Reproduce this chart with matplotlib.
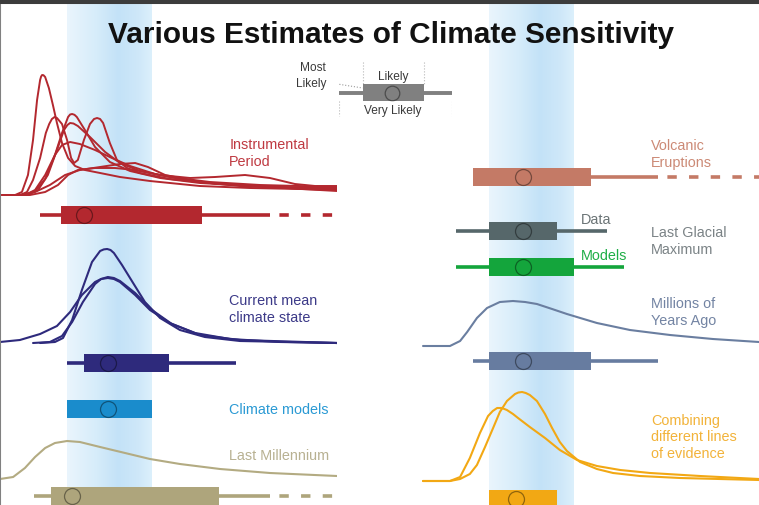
import matplotlib
matplotlib.use('Agg')
import matplotlib.pyplot as plt
import numpy as np
from matplotlib.colors import LinearSegmentedColormap
from matplotlib import font_manager

plt.rcParams['font.family'] = ['Liberation Sans', 'DejaVu Sans']

# ---------------- DATA (x in deg C, h = curve height above its baseline) ----------------
# Instrumental period PDFs
inst1_x = [0, 0.45, 0.65, 0.83, 0.98, 1.10, 1.19, 1.22, 1.25, 1.29, 1.34, 1.45, 1.57, 1.69, 1.84, 2.02, 2.23, 2.52, 2.97, 3.56, 4.45, 5.93, 7.42, 8.9, 10]
inst1_h = [0, 0, 3, 20, 55, 95, 115, 118.5, 120, 119.8, 118, 107, 90, 72, 52, 37, 29, 25, 22, 18, 14, 9, 7, 6, 5]
inst2_x = [0, 0.6, 0.8, 0.98, 1.19, 1.36, 1.46, 1.54, 1.62, 1.69, 1.84, 1.99, 2.11, 2.2, 2.31, 2.49, 2.67, 2.79, 2.88, 2.97, 3.06, 3.26, 3.47, 3.77, 4.15, 5.04, 6.53, 8.31, 10]
inst2_h = [0, 0, 3, 15, 37, 62, 71, 76, 78, 77, 71, 55, 37, 32, 35, 55, 71, 76, 77, 76, 72, 52, 35, 27, 22, 16, 11, 8, 7]
inst3_x = [0, 0.74, 1.04, 1.34, 1.63, 1.84, 2.02, 2.08, 2.14, 2.21, 2.28, 2.52, 2.82, 3.26, 3.86, 4.75, 5.93, 7.42, 10]
inst3_h = [0, 0, 4, 16, 40, 62, 78, 80.5, 81, 80.2, 78, 65, 48, 33, 24, 17, 12, 9, 6]
inst4_x = [0, 0.83, 1.13, 1.42, 1.69, 1.90, 2.0, 2.08, 2.18, 2.31, 2.67, 3.12, 3.56, 4.15, 5.04, 6.23, 7.72, 10]
inst4_h = [0, 0, 5, 20, 45, 65, 70, 72, 71.5, 69, 58, 43, 32, 24, 18, 13, 10, 8]
inst5_x = [0, 0.74, 1.04, 1.34, 1.63, 1.84, 2.08, 2.37, 2.82, 3.32, 3.86, 4.6, 5.64, 7.12, 10]
inst5_h = [0, 0, 5, 20, 40, 50, 53, 51, 45, 37, 29, 21, 14, 9, 5]
inst6_x = [0, 0.89, 1.34, 1.72, 2.02, 2.31, 2.82, 3.41, 4.01, 4.75, 5.64, 6.38, 7.27, 8.01, 8.75, 9.35, 10]
inst6_h = [0, 0, 3, 10, 20, 25, 27, 27, 25, 20, 17, 18, 20, 17, 11, 9, 9]
inst7_x = [0, 0.59, 1.04, 1.48, 1.93, 2.37, 2.97, 3.56, 4.01, 4.39, 4.9, 5.93, 7.42, 10]
inst7_h = [0, 0, 3, 10, 20, 25, 28, 31, 32, 28, 20, 13, 9, 4]

# Current mean climate state PDFs
cur1_x = [1.19, 1.63, 1.87, 2.14, 2.43, 2.73, 2.97, 3.08, 3.18, 3.28, 3.38, 3.62, 3.95, 4.30, 4.75, 5.34, 6.08, 7.12, 8.6, 10]
cur1_h = [0, 1, 5, 23, 53, 81, 92, 93.6, 94, 93, 90, 78, 60, 41, 25, 13, 6, 2, 1, 0]
cur2_x = [0, 0.59, 1.19, 1.69, 2.08, 2.43, 2.82, 3.0, 3.2, 3.38, 3.56, 4.01, 4.45, 5.04, 5.79, 6.82, 8.31, 10]
cur2_h = [1, 3, 9, 17, 31, 48, 61, 64, 65, 64, 61, 48, 33, 20, 10, 4, 1, 0]
cur3_x = [0.98, 1.48, 1.84, 2.14, 2.46, 2.82, 3.0, 3.2, 3.38, 3.56, 4.01, 4.51, 5.1, 5.93, 7.12, 10]
cur3_h = [0, 1, 7, 21, 41, 59, 64, 66, 65, 62, 50, 33, 19, 8, 3, 0]

# Last millennium PDF
mill_x = [0, 0.39, 0.74, 1.04, 1.34, 1.63, 1.99, 2.37, 2.97, 3.71, 4.45, 5.34, 6.53, 8.01, 10]
mill_h = [1, 3, 12, 23, 32, 37, 39, 38, 33, 27, 21, 16, 11, 7, 4]

# Millions of years ago PDF
myr_x = [0.03, 0.83, 1.13, 1.34, 1.63, 1.93, 2.31, 2.7, 3.06, 3.41, 3.86, 4.3, 5.19, 6.17, 7.36, 8.63, 10]
myr_h = [0, 0, 5, 14, 28, 38, 44, 45, 44, 42, 37, 32, 23, 16, 11, 7, 4]

# Combining different lines of evidence PDFs
comb1_x = [0.03, 0.83, 1.13, 1.42, 1.63, 1.87, 2.11, 2.31, 2.52, 2.76, 2.86, 2.97, 3.08, 3.2, 3.41, 3.65, 3.86, 4.09, 4.3, 4.69, 5.19, 5.67, 6.47, 7.66, 10]
comb1_h = [0, 0, 2, 7, 16, 34, 53, 69, 80, 87, 88.5, 89, 88, 86, 80, 67, 53, 39, 30, 19, 12, 8, 5, 3, 1]
comb2_x = [0.03, 0.83, 1.13, 1.42, 1.72, 1.96, 2.1, 2.23, 2.37, 2.52, 2.7, 2.85, 3.2, 3.65, 4.09, 4.6, 5.19, 5.88, 6.77, 8.25, 10]
comb2_h = [0, 0, 4, 23, 48, 65, 70, 73, 73, 71, 67, 63, 54, 43, 31, 21, 15, 11, 8, 5, 2]

# Ranges: [very-likely low, likely low, most likely, likely high, very-likely high]
inst_range = [1.2, 1.8, 2.5, 6.0, 8.0]
cur_range = [2.0, 2.5, 3.2, 5.0, 7.0]
models_range = [2.0, 2.0, 3.2, 4.5, 4.5]
mill_range = [1.0, 1.5, 2.15, 6.5, 8.0]
volc_range = [1.5, 1.5, 3.0, 5.0, 7.0]
lgm_data_range = [1.0, 2.0, 3.0, 4.0, 5.5]
lgm_models_range = [1.0, 2.0, 3.0, 4.5, 6.0]
myr_range = [1.5, 2.0, 3.0, 5.0, 7.0]
comb_range = [2.0, 2.0, 2.8, 4.0, 4.0]
open_end = 10.0          # dashed continuation (upper bound not constrained)
band_range = [2.0, 4.5]  # shaded likely range
legend_range = [0.0, 0.21, 0.47, 0.75, 1.0]  # schematic example

title = 'Various Estimates of Climate Sensitivity'

# ---------------- STYLE / LAYOUT ----------------
W, H = 759, 505
fig = plt.figure(figsize=(W / 100, H / 100), dpi=100)
fig.patch.set_facecolor('white')

names = {f.name for f in font_manager.fontManager.ttflist}
title_family = ['Liberation Sans']
for cand in ('Liberation Sans Narrow', 'Arial Narrow'):
    if cand in names:
        title_family = [cand]
        break

band_cmap = LinearSegmentedColormap.from_list(
    'band', [(0.0, '#eaf5fd'), (0.35, '#d6ecfa'), (0.6, '#c3e2f7'), (0.85, '#cfe8f9'), (1.0, '#dcf0fc')])

axL = fig.add_axes([0, 0, 337 / W, 1])
axR = fig.add_axes([422 / W, 0, 337 / W, 1])
for ax in (axL, axR):
    ax.imshow(np.linspace(0, 1, 256).reshape(1, -1), cmap=band_cmap, aspect='auto',
              extent=(band_range[0], band_range[1], H, 0), zorder=0, interpolation='bilinear')
    ax.set_xlim(0, 10)
    ax.set_ylim(H, 0)
    ax.axis('off')


def curve(ax, xs, hs, base, color, lw=1.5):
    ax.plot(xs, base - np.asarray(hs, float), color=color, lw=lw,
            solid_joinstyle='round', solid_capstyle='round', zorder=2)


def box(ax, y, rng, color, dashed=False, hgt=18, lw=2.6, circ=11.5):
    wlo, blo, best, bhi, whi = rng
    if wlo < blo:
        ax.plot([wlo, blo], [y, y], color=color, lw=lw, solid_capstyle='butt', zorder=2)
    if whi > bhi:
        ax.plot([bhi, whi], [y, y], color=color, lw=lw, solid_capstyle='butt', zorder=2)
    ax.barh(y, bhi - blo, left=blo, height=hgt, color=color, lw=0, zorder=3)
    ax.plot([best], [y], 'o', ms=circ, mfc='none', mec=(0, 0, 0, 0.4), mew=0.9, zorder=4)
    if dashed:
        ax.plot([whi, open_end], [y, y], color=color, lw=lw, ls=(3.4, (2.6, 3.4)),
                dash_capstyle='butt', zorder=2)


def label(ax, lines, base, color, step=16.8, size=10.4):
    for i, t in enumerate(lines):
        ax.text(6.8, base + i * step, t, color=color, fontsize=size, va='baseline', ha='left', zorder=5)


# Left panel
red = '#b3282f'
for xs, hs in [(inst1_x, inst1_h), (inst2_x, inst2_h), (inst3_x, inst3_h), (inst4_x, inst4_h),
               (inst5_x, inst5_h), (inst6_x, inst6_h), (inst7_x, inst7_h)]:
    curve(axL, xs, hs, 195, red, lw=1.4)
box(axL, 215, inst_range, red, dashed=True)
label(axL, ['Instrumental', 'Period'], 149, '#bf3a42')

navy = '#2e2a7c'
for xs, hs in [(cur1_x, cur1_h), (cur2_x, cur2_h), (cur3_x, cur3_h)]:
    curve(axL, xs, hs, 343, navy)
box(axL, 362.5, cur_range, navy)
label(axL, ['Current mean', 'climate state'], 305, '#3c3a88')

box(axL, 409, models_range, '#1a8ccc')
label(axL, ['Climate models'], 414, '#2b9ad4')

khaki = '#aea57c'
curve(axL, mill_x, mill_h, 480, '#b3ab82')
box(axL, 496, mill_range, khaki, dashed=True)
label(axL, ['Last Millennium'], 460, '#b8b192')

# Right panel
volc = '#c47a66'
box(axR, 176.5, volc_range, volc, dashed=True)
label(axR, ['Volcanic', 'Eruptions'], 150.5, '#cc8a76')

box(axR, 230.5, lgm_data_range, '#56676a')
axR.text(4.7, 224, 'Data', color='#6b7476', fontsize=10.4, va='baseline', ha='left')
box(axR, 267, lgm_models_range, '#14a53c')
axR.text(4.7, 260, 'Models', color='#1fae47', fontsize=10.4, va='baseline', ha='left')
label(axR, ['Last Glacial', 'Maximum'], 237, '#7b8386')

slate = '#6a7ea0'
curve(axR, myr_x, myr_h, 346, slate)
box(axR, 361, myr_range, '#677ca0')
label(axR, ['Millions of', 'Years Ago'], 308, '#7384a3')

orange = '#f2a814'
curve(axR, comb1_x, comb1_h, 481, orange)
curve(axR, comb2_x, comb2_h, 481, orange)
box(axR, 499, comb_range, orange)
label(axR, ['Combining', 'different lines', 'of evidence'], 424.5, '#f2b33a')

# Legend (schematic)
lg = fig.add_axes([339 / W, 0, 113 / W, 1])
lg.set_xlim(0, 1)
lg.set_ylim(H, 0)
lg.axis('off')
box(lg, 92.5, legend_range, '#808080', hgt=17, lw=2.8, circ=10.5)
dot = dict(color='#b8b8b8', lw=0.8, ls=':', zorder=1)
for xv in (legend_range[1], legend_range[3]):
    lg.plot([xv, xv], [62, 84], **dot)
for xv in (legend_range[0], legend_range[4]):
    lg.plot([xv, xv], [101, 116], **dot)
lg.plot([-0.10, legend_range[1]], [82.5, 88], color='#9a9a9a', lw=0.8, ls=':', zorder=1)
mid = (legend_range[1] + legend_range[3]) / 2
lg.text(mid, 80, 'Likely', ha='center', va='baseline', fontsize=8.6, color='#3a3a3a')
lg.text(mid, 114, 'Very Likely', ha='center', va='baseline', fontsize=8.6, color='#3a3a3a')
lg.text(-0.115, 71, 'Most', ha='right', va='baseline', fontsize=8.6, color='#3a3a3a')
lg.text(-0.115, 87, 'Likely', ha='right', va='baseline', fontsize=8.6, color='#3a3a3a')

# Overlay: title and frame
ov = fig.add_axes([0, 0, 1, 1])
ov.set_xlim(0, W)
ov.set_ylim(H, 0)
ov.patch.set_alpha(0)
ov.set_xticks([])
ov.set_yticks([])
for s in ('right', 'bottom'):
    ov.spines[s].set_visible(False)
ov.spines['top'].set_color('#3c3c3c')
ov.spines['top'].set_linewidth(5.8)
ov.spines['left'].set_color('#808080')
ov.spines['left'].set_linewidth(1.5)
ttl = ov.text(391.5, 43, title, ha='center', va='baseline', fontsize=26, fontweight='bold',
              color='#111111', family=title_family + ['DejaVu Sans'])
fig.canvas.draw()
bw = ttl.get_window_extent(renderer=fig.canvas.get_renderer()).width
ttl.set_fontsize(26 * 565.0 / bw)

fig.savefig('out.png', dpi=100)
